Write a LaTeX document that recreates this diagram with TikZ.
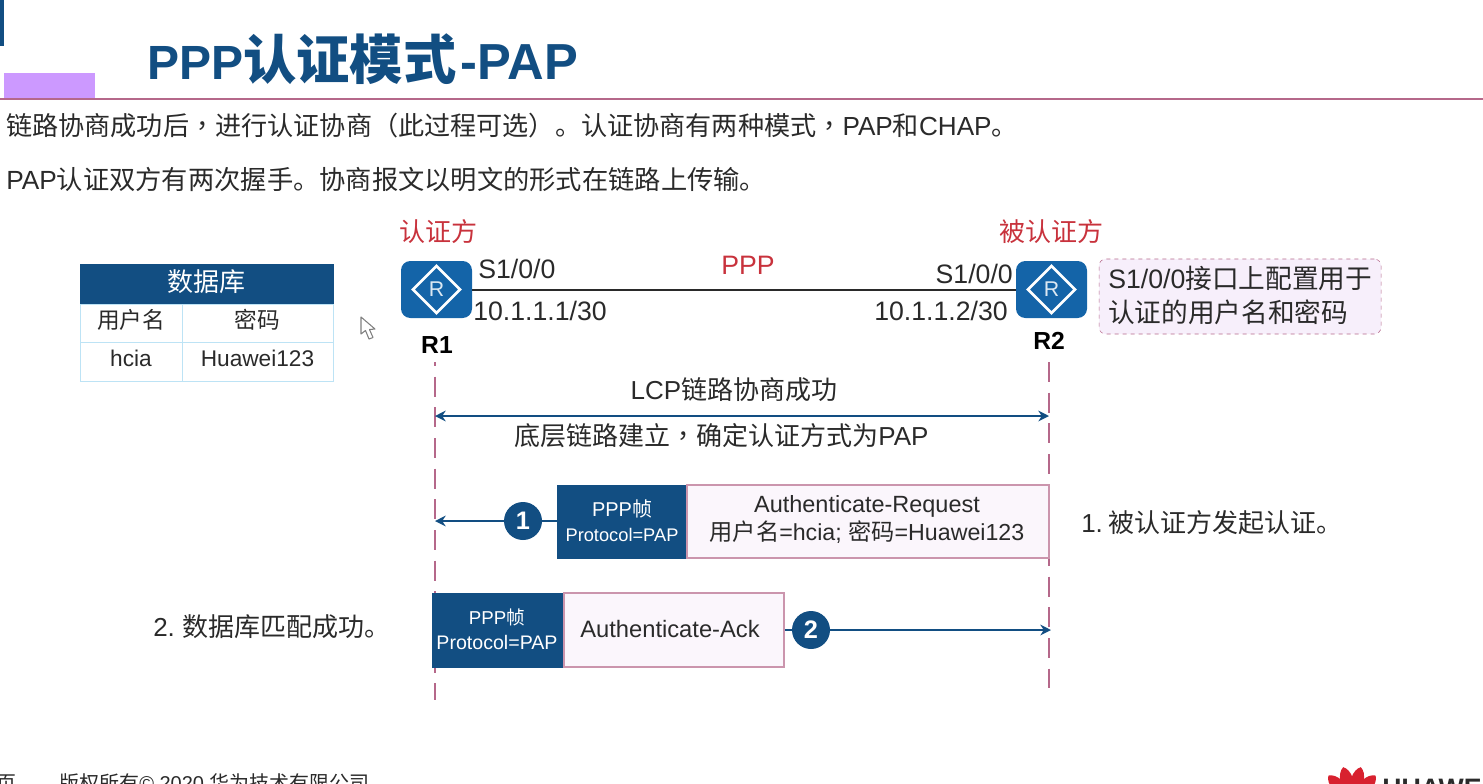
\documentclass[tikz,border=0pt]{standalone}
\usepackage{fontspec}
\setmainfont{Liberation Sans}
\newfontfamily\cjk{Noto Sans CJK SC}
\newfontfamily\cjkpn{Noto Sans CJK TC}
\newcommand{\cn}[1]{{\cjk #1}}
\newcommand{\pn}[1]{{\cjkpn #1}}
\newcommand{\fs}[1]{\fontsize{#1}{#1}\selectfont}
\usetikzlibrary{shapes.geometric, arrows.meta}
\definecolor{hwblue}{HTML}{124E82}
\definecolor{routerblue}{HTML}{1464A8}
\definecolor{lifepink}{HTML}{B5688A}
\definecolor{boxpink}{HTML}{FBF6FC}
\definecolor{notepink}{HTML}{F7EFFB}
\definecolor{barpurple}{HTML}{CC99FF}
\definecolor{cellblue}{HTML}{BDE3F5}
\definecolor{hwred}{HTML}{C8323C}
\definecolor{logored}{HTML}{D8212F}
\definecolor{inkgray}{HTML}{2A2A2A}
\tikzset{
    body/.style={font=\fs{19.5}, text=inkgray, inner sep=0pt},
    side/.style={font=\fs{19.5}, text=hwred, inner sep=0pt},
    plain/.style={text=inkgray, inner sep=0pt},
    cell/.style={draw=cellblue, line width=0.75pt, inner sep=0pt, font=\fs{17}, text=inkgray},
    darkbox/.style={fill=hwblue, draw=hwblue, inner sep=0pt, text=white, align=center},
    paleboxed/.style={fill=boxpink, draw=lifepink!70, line width=1pt, inner sep=0pt},
    router/.style={fill=routerblue, rounded corners=7pt, minimum width=53.25pt, minimum height=42.75pt, inner sep=0pt},
    badge/.style={circle, fill=hwblue, minimum size=28.5pt, inner sep=0pt, text=white, font=\fs{19}\bfseries},
    life/.style={lifepink, line width=1.2pt, dash pattern=on 15pt off 8pt},
    msg/.style={hwblue, line width=2.2pt},
}
\begin{document}
\begin{tikzpicture}[x=0.75pt, y=-0.75pt, >={Stealth[length=8pt,width=8pt]}]
    \useasboundingbox (0,0) rectangle (1483,783);
    % header
    \fill[hwblue] (0,0) rectangle (4,46);
    \fill[barpurple] (4,73) rectangle (95,98);
    \draw[lifepink, line width=1.5pt] (0,99) -- (1483,99);
    \node[anchor=base west, inner sep=0pt, text=hwblue, font=\bfseries] (title) at (147,79)
        {\fs{36}PPP\fs{40}\cn{认证模式}\fs{38}\kern3pt-PAP};
    \node[plain, font=\fs{19.6}, anchor=base west] (line1) at (6,135)
        {\cn{链路协商成功后}\pn{，}\cn{进行认证协商}\pn{（}\cn{此过程可选}\pn{）}\cn{。认证协商有两种模式}\pn{，}PAP\cn{和}CHAP\cn{。}};
    \node[plain, font=\fs{19.7}, anchor=base west] (line2) at (6,189)
        {PAP\cn{认证双方有两次握手。协商报文以明文的形式在链路上传输。}};

    % table
    \node[darkbox, minimum width=189.75pt, minimum height=30pt, font=\fs{19.5}] (dbhead) at (206.5,284) {\raisebox{4.5pt}{\cn{数据库}}};
    \node[cell, minimum width=76.5pt, minimum height=28.5pt] (dbuser) at (131,323) {\raisebox{6pt}{\cn{用户名}}};
    \node[cell, minimum width=113.25pt, minimum height=28.5pt] (dbpass) at (257.5,323) {\raisebox{6pt}{\cn{密码}}};
    \node[cell, minimum width=76.5pt, minimum height=29.25pt] (dbname) at (131,361.5) {\raisebox{5.5pt}{hcia}};
    \node[cell, minimum width=113.25pt, minimum height=29.25pt] (dbword) at (257.5,361.5) {\raisebox{5.5pt}{Huawei123}};
    % mouse pointer
    \draw[gray, fill=white, line width=0.8pt, line join=round] (361,317) -- (361,334) -- (365.5,330.5) -- (369,339) -- (373,337.5) -- (369.5,329.5) -- (375,329) -- cycle;

    % routers
    \foreach \name/\x in {R1/436.5,R2/1051.5} {
        \node[router] (\name) at (\x,289.5) {};
        \node[diamond, draw=white, line width=2pt, minimum width=36pt, minimum height=36pt, inner sep=0pt, text=white!85!routerblue, font=\fs{16}] (\name d) at (\x,289.5) {R};
    }
    \draw[inkgray, line width=1.5pt] (R1) -- (R2);
    \node[side] (auth) at (438,232) {\cn{认证方}};
    \node[side] (peer) at (1051,232) {\cn{被认证方}};
    \node[plain, font=\fs{20}, text=hwred] (ppp) at (748,265) {PPP};
    \node[plain, font=\fs{20}, anchor=west] (s1) at (478,269) {S1/0/0};
    \node[plain, font=\fs{20}, anchor=east] (s2) at (1013,274) {S1/0/0};
    \node[plain, font=\fs{20}, anchor=west] (ip1) at (473,311) {10.1.1.1/30};
    \node[plain, font=\fs{20}, anchor=east] (ip2) at (1008,311) {10.1.1.2/30};
    \node[plain, font=\fs{18.5}\bfseries, text=black] (name1) at (437,345) {R1};
    \node[plain, font=\fs{18.5}\bfseries, text=black] (name2) at (1049,341) {R2};
    \node[draw=lifepink, dashed, fill=notepink, rounded corners=5pt, minimum width=211.5pt, minimum height=56.25pt, inner sep=0pt] (note) at (1240,296.5) {};
    \node[plain, font=\fs{20}, anchor=west, align=left] (notetext) at (1108,295.5)
        {S1/0/0\cn{接口上配置用于}\\[6pt]\cn{认证的用户名和密码}};

    % lifelines
    \coordinate (life1a) at (435,362);
    \coordinate (life1b) at (435,700);
    \coordinate (life2a) at (1049,362);
    \coordinate (life2b) at (1049,688);
    \draw[life, dash phase=12pt] (life1a) -- (life1b);
    \draw[life] (life2a) -- (life2b);

    % LCP
    \coordinate (lcp1) at (435,416);
    \coordinate (lcp2) at (1049,416);
    \draw[<->, msg, line width=1.6pt] (lcp1) -- (lcp2);
    \node[body] (lcp) at (734,390) {LCP\cn{链路协商成功}};
    \node[body] (base) at (721.5,436) {\cn{底层链路建立}\pn{，}\cn{确定认证方式为}PAP};

    % frame 1
    \node[darkbox, minimum width=97.5pt, minimum height=54.75pt] (head1) at (622,521.5) {};
    \node[plain, font=\fs{15}, text=white] (ppp1) at (622,509) {PPP\cn{帧}};
    \node[plain, font=\fs{13.7}, text=white] (proto1) at (622,535) {Protocol=PAP};
    \node[paleboxed, minimum width=271.5pt, minimum height=54.75pt] (req) at (868,521.5) {};
    \node[plain, font=\fs{17.6}] (reqa) at (867,506) {Authenticate-Request};
    \node[plain, font=\fs{17.4}] (reqb) at (867,532) {\cn{用户名}=hcia; \cn{密码}=Huawei123};
    \coordinate (end1) at (435,521);
    \node[badge] (b1) at (523,521) {1};
    \draw[->, msg] (head1.west |- b1) -- (b1) -- (end1);

    % frame 2
    \node[darkbox, minimum width=99pt, minimum height=55.5pt] (head2) at (498,630) {};
    \node[plain, font=\fs{14}, text=white] (ppp2) at (497,617) {PPP\cn{帧}};
    \node[plain, font=\fs{14.7}, text=white] (proto2) at (497,642) {Protocol=PAP};
    \node[paleboxed, minimum width=165pt, minimum height=55.5pt] (ack) at (674,630) {};
    \node[plain, font=\fs{17.8}] (acktext) at (670,629) {Authenticate-Ack};
    \coordinate (end2) at (1051,630);
    \node[badge] (b2) at (811,630) {2};
    \draw[->, msg] (ack.east |- b2) -- (b2) -- (end2);

    % notes
    \node[body, anchor=west] (step1) at (1081,523) {1.\kern4.5pt\cn{被认证方发起认证。}};
    \node[body, anchor=west] (step2) at (153,627) {2.\kern5.5pt\cn{数据库匹配成功。}};

    % footer
    \node[plain, font=\fs{15}, anchor=base west] (copyr) at (59,790) {\cn{版权所有}© 2020 \cn{华为技术有限公司}};
    \node[plain, font=\fs{15}, anchor=base west] (page) at (-4,790) {\cn{页}};
    \foreach \a in {-72,-44,-15,15,44,72}
        \fill[logored, rotate around={\a:(1352,800)}] (1352,800) .. controls (1342,785) and (1345,770) .. (1352,766) .. controls (1359,770) and (1362,785) .. (1352,800);
    \node[plain, font=\fs{20}\bfseries, anchor=base west] (logo) at (1382,797) {HUAWEI};
\end{tikzpicture}
\end{document}
